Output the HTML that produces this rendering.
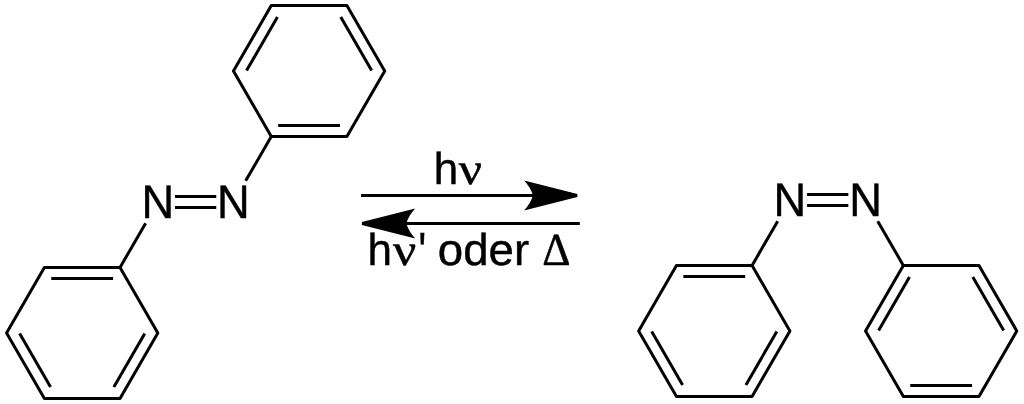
<!DOCTYPE html>
<html lang="de">
<head>
<meta charset="utf-8">
<title>Azobenzol: cis-trans-Isomerisierung</title>
<style>
html,body{margin:0;padding:0;background:#fff}
#fig{will-change:transform;position:relative;width:1024px;height:404px;overflow:hidden;background:#fff}
svg{display:block;position:absolute;left:0;top:0}
.b{fill:none;stroke:#000;stroke-width:3.0;stroke-linecap:butt;stroke-linejoin:round}
.f{fill:#000;stroke:none}
.t{position:absolute;left:0;top:0;margin:0;white-space:nowrap;color:#000;font-family:"Liberation Sans",sans-serif;line-height:1}
.t span{-webkit-text-stroke:0.45px #000;text-rendering:geometricPrecision;position:absolute;left:0;top:0;display:block;line-height:1;transform-origin:0 0;white-space:pre}
.sy{font-family:"Liberation Serif",serif}
#n1{font-size:45.60px;transform:translate(141.45px,179.00px) scale(0.9920,1.0300)}
#n2{font-size:45.60px;transform:translate(217.08px,179.00px) scale(0.9920,1.0300)}
#n3{font-size:45.60px;transform:translate(773.52px,177.00px) scale(0.9920,1.0300)}
#n4{font-size:45.60px;transform:translate(849.15px,177.00px) scale(0.9920,1.0300)}
#h1{font-size:45.60px;transform:translate(433.77px,147.00px) scale(0.9650,0.9800)}
#v1{font-size:45.60px;transform:translate(458.70px,147.14px) scale(1.1320,0.9760)}
#h2{font-size:45.60px;transform:translate(367.47px,228.00px) scale(0.9650,0.9800)}
#v2{font-size:45.60px;transform:translate(392.89px,228.16px) scale(1.1320,0.9760)}
#ap{font-size:45.60px;transform:translate(418.56px,225.39px) scale(0.8800,1.1500)}
#sp1{font-size:45.60px;transform:translate(427.50px,228.00px) scale(1.0000,1.0000)}
#od{font-size:45.60px;transform:translate(437.82px,227.81px) scale(1.0000,0.9780)}
#sp2{font-size:45.60px;transform:translate(530.50px,228.00px) scale(1.0000,1.0000)}
#de{font-size:45.60px;transform:translate(542.15px,227.00px) scale(0.9640,1.0020)}
</style>
</head>
<body>
<div id="fig">
<svg width="1024" height="404" viewBox="0 0 1024 404">
<g class="b">
<polygon points="157.83,333.00 120.02,398.49 44.39,398.49 6.57,333.00 44.38,267.50 120.02,267.50"/>
<line x1="144.76" y1="333.43" x2="113.86" y2="386.96"/>
<line x1="50.54" y1="386.96" x2="19.64" y2="333.43"/>
<line x1="51.29" y1="278.60" x2="113.11" y2="278.60"/>
<polygon points="384.72,71.00 346.90,136.50 271.27,136.50 233.46,71.00 271.27,5.51 346.90,5.51"/>
<line x1="340.00" y1="125.40" x2="278.18" y2="125.40"/>
<line x1="246.53" y1="70.57" x2="277.43" y2="17.04"/>
<line x1="340.75" y1="17.04" x2="371.65" y2="70.57"/>
<line x1="120.02" y1="267.50" x2="145.63" y2="223.13"/>
<line x1="271.27" y1="136.50" x2="245.66" y2="180.87"/>
<line x1="175.03" y1="196.53" x2="216.26" y2="196.53"/>
<line x1="175.03" y1="207.47" x2="216.26" y2="207.47"/>
<polygon points="789.90,331.00 752.09,396.49 676.46,396.49 638.64,331.00 676.45,265.50 752.09,265.50"/>
<line x1="776.83" y1="331.43" x2="745.93" y2="384.96"/>
<line x1="682.61" y1="384.96" x2="651.71" y2="331.43"/>
<line x1="683.36" y1="276.60" x2="745.18" y2="276.60"/>
<polygon points="1016.79,331.00 978.98,396.49 903.35,396.49 865.53,331.00 903.35,265.50 978.98,265.50"/>
<line x1="972.07" y1="385.39" x2="910.25" y2="385.39"/>
<line x1="878.60" y1="330.56" x2="909.50" y2="277.03"/>
<line x1="972.82" y1="277.03" x2="1003.72" y2="330.56"/>
<line x1="752.09" y1="265.50" x2="777.70" y2="221.13"/>
<line x1="903.35" y1="265.50" x2="877.73" y2="221.13"/>
<line x1="807.10" y1="194.53" x2="848.33" y2="194.53"/>
<line x1="807.10" y1="205.47" x2="848.33" y2="205.47"/>
<line x1="361.10" y1="195.50" x2="533.90" y2="195.50"/>
<line x1="579.80" y1="223.50" x2="405.40" y2="223.50"/>
</g>
<path class="f" d="M577.40,193.90 L524.10,180.60 Q530.96,188.05 532.90,195.50 Q530.96,202.95 524.10,210.40 L577.40,197.10 Z"/>
<path class="f" d="M361.90,221.90 L415.20,208.60 Q408.34,216.05 406.40,223.50 Q408.34,230.95 415.20,238.40 L361.90,225.10 Z"/>
</svg>
<p class="t"><span id="n1">N</span><span id="n2">N</span></p>
<p class="t"><span id="h1">h</span><span id="v1" class="sy">ν</span></p>
<p class="t"><span id="h2">h</span><span id="v2" class="sy">ν</span><span id="ap">'</span><span id="sp1"> </span><span id="od">oder</span><span id="sp2"> </span><span id="de" class="sy">Δ</span></p>
<p class="t"><span id="n3">N</span><span id="n4">N</span></p>
</div>
</body>
</html>
